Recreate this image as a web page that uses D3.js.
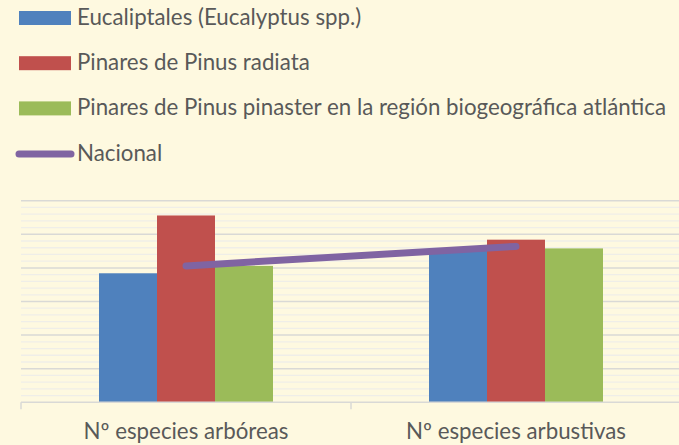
<!DOCTYPE html>
<html>
<head>
<meta charset="utf-8">
<script src="https://cdn.jsdelivr.net/npm/d3@7"></script>
<style>
  html, body { margin: 0; padding: 0; background: #FEF9E0; }
  svg { display: block; }
  text { font-family: Lato, "Open Sans", sans-serif; fill: #595959; }
</style>
</head>
<body>
<div id="chart"></div>
<script>
// data (no y labels shown, so units are arbitrary)
const categories = ["Nº especies arbóreas", "Nº especies arbustivas"];
const seriesNames = [
    "Eucaliptales (Eucalyptus spp.)",
    "Pinares de Pinus radiata",
    "Pinares de Pinus pinaster en la región biogeográfica atlántica"
];
const eucaliptales = [19.2, 22.6];
const radiata = [27.8, 24.2];
const pinaster = [20.3, 22.9];
const nacional = [20.3, 23.2];
const lineName = "Nacional";

const seriesColors = ["#4F81BD", "#C0504D", "#9BBB59"];
const lineColor = "#8064A2";

const WIDTH = 679, HEIGHT = 445;
const PLOT = {LEFT: 21, RIGHT: 681, TOP: 200.7, BOTTOM: 402.3};
const FONT_SIZE = "22.3px";

const svg = d3.select("#chart").append("svg")
    .attr("width", WIDTH)
    .attr("height", HEIGHT);

const x0 = d3.scaleBand().domain(categories).range([PLOT.LEFT, PLOT.RIGHT]);
const x1 = d3.scaleBand().domain(seriesNames).range([0, x0.bandwidth()]).paddingOuter(1.345);
const y = d3.scaleLinear().domain([0, 30]).range([PLOT.BOTTOM, PLOT.TOP]);
const color = d3.scaleOrdinal().domain(seriesNames).range(seriesColors);

// gridlines: minor every 1, major every 5
const grid = svg.append("g");
grid.selectAll(".minor")
    .data(d3.range(1, 30).filter(v => v % 5 !== 0))
    .enter().append("line")
    .attr("class", "minor")
    .attr("x1", PLOT.LEFT).attr("x2", PLOT.RIGHT)
    .attr("y1", d => y(d)).attr("y2", d => y(d))
    .attr("stroke", "#EFEEE8")
    .attr("stroke-width", 1.3);
grid.selectAll(".major")
    .data(d3.range(5, 31, 5))
    .enter().append("line")
    .attr("class", "major")
    .attr("x1", PLOT.LEFT).attr("x2", PLOT.RIGHT)
    .attr("y1", d => y(d)).attr("y2", d => y(d))
    .attr("stroke", "#D9D9D6")
    .attr("stroke-width", 1.5);

// bars
const rows = categories.map((c, i) => ({
    cat: c,
    values: [eucaliptales[i], radiata[i], pinaster[i]].map((v, j) => ({key: seriesNames[j], value: v}))
}));

svg.append("g").selectAll("g")
    .data(rows)
    .enter().append("g")
    .attr("transform", d => `translate(${x0(d.cat)}, 0)`)
    .selectAll("rect")
    .data(d => d.values)
    .enter().append("rect")
    .attr("x", d => x1(d.key))
    .attr("y", d => y(d.value))
    .attr("width", x1.bandwidth())
    .attr("height", d => y(0) - y(d.value))
    .attr("fill", d => color(d.key));

// x axis: baseline + category dividers
const xAxis = svg.append("g");
xAxis.append("line")
    .attr("x1", PLOT.LEFT).attr("x2", PLOT.RIGHT)
    .attr("y1", y(0)).attr("y2", y(0))
    .attr("stroke", "#D9D9D6")
    .attr("stroke-width", 1.5);
xAxis.selectAll(".tick")
    .data(categories.concat([null]))
    .enter().append("line")
    .attr("class", "tick")
    .attr("x1", d => d ? x0(d) : PLOT.RIGHT)
    .attr("x2", d => d ? x0(d) : PLOT.RIGHT)
    .attr("y1", y(0)).attr("y2", y(0) + 7)
    .attr("stroke", "#D9D9D6")
    .attr("stroke-width", 1.5);
xAxis.selectAll(".label")
    .data(categories)
    .enter().append("text")
    .attr("class", "label")
    .attr("x", d => x0(d) + x0.bandwidth() / 2)
    .attr("y", 439)
    .attr("text-anchor", "middle")
    .style("font-size", FONT_SIZE)
    .text(d => d);

// Nacional line
svg.append("path")
    .datum(nacional)
    .attr("d", d3.line()
        .x((d, i) => x0(categories[i]) + x0.bandwidth() / 2)
        .y(d => y(d)))
    .attr("fill", "none")
    .attr("stroke", lineColor)
    .attr("stroke-width", 7)
    .attr("stroke-linecap", "round");

// legend
const legend = svg.append("g").attr("transform", "translate(19, 0)");
const legendRows = seriesNames.map((s, i) => ({label: s, color: seriesColors[i], type: "rect"}))
    .concat([{label: lineName, color: lineColor, type: "line"}]);

const legendRow = legend.selectAll(".legendRow")
    .data(legendRows)
    .enter().append("g")
    .attr("class", "legendRow")
    .attr("transform", (d, i) => `translate(0, ${11 + i * 45.2})`);

legendRow.filter(d => d.type === "rect").append("rect")
    .attr("width", 52)
    .attr("height", 14)
    .attr("fill", d => d.color);

legendRow.filter(d => d.type === "line").append("line")
    .attr("x1", 0).attr("x2", 52)
    .attr("y1", 7.5).attr("y2", 7.5)
    .attr("stroke", d => d.color)
    .attr("stroke-width", 7)
    .attr("stroke-linecap", "round");

legendRow.append("text")
    .attr("x", 58)
    .attr("y", 14)
    .style("font-size", FONT_SIZE)
    .text(d => d.label);
</script>
</body>
</html>
